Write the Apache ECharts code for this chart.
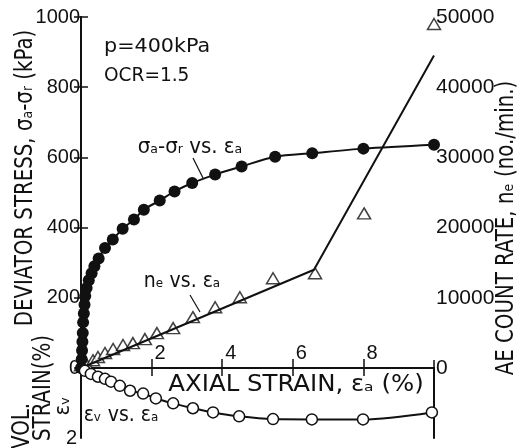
<!DOCTYPE html>
<html>
<head>
<meta charset="utf-8">
<script src="https://cdn.jsdelivr.net/npm/echarts@6/dist/echarts.min.js"></script>
<style>html,body{margin:0;padding:0;background:#fff}#c{width:524px;height:448px}</style>
</head>
<body>
<div id="c"></div>
<script>
// ---- data ----
// deviator stress (kPa) vs axial strain (%)
const stressStrain = [0,0.02,0.03,0.04,0.05,0.06,0.08,0.1,0.12,0.16,0.22,0.3,0.38,0.5,0.68,0.9,1.18,1.5,1.78,2.23,2.65,3.15,3.8,4.55,5.5,6.55,8.0,10.0];
const stressValues = [0,25,50,75,100,130,155,180,205,228,250,270,290,312,342,366,397,423,451,477,503,527,551,574,602,612,625,636];
// AE count rate (no./min.) vs axial strain (%)
const aeStrain = [0,0.14,0.34,0.48,0.68,0.91,1.19,1.47,1.81,2.15,2.61,3.17,3.8,4.5,5.44,6.63,8.02,10];
const aeValues = [400,700,1100,1560,2130,2700,3270,3550,4120,4970,5680,7240,8660,10080,12780,13490,22020,49000];
// fitted AE trend line
const aeFitStrain = [0,6.6,10];
const aeFitValues = [0,14000,44500];
// volumetric strain (%) vs axial strain (%)
const volStrainX = [0.11,0.28,0.48,0.68,0.85,1.1,1.39,1.76,2.12,2.61,3.17,3.74,4.48,5.44,6.54,7.99,9.94];
const volStrainY = [0.08,0.17,0.25,0.31,0.39,0.51,0.65,0.73,0.87,1.01,1.15,1.27,1.38,1.46,1.47,1.47,1.27];
// axes
const strainTicks = {min:0,max:10,interval:2};
const stressTicks = {min:0,max:1000,interval:200};
const aeTicks = {min:0,max:50000,interval:10000};
const volTicks = {min:0,max:2,interval:2};

const zip = (a,b)=>a.map((v,i)=>[v,b[i]]);
const FN = "'Liberation Sans Narrow','DejaVu Sans Condensed','Liberation Sans',sans-serif";
const FR = "'Liberation Sans',sans-serif";
const INK = '#111';
const plain = v=>String(v);

const chart = echarts.init(document.getElementById('c'), null, {renderer:'canvas'});
const axLine = {show:true, lineStyle:{color:INK,width:2}};
const tickIn = (len)=>({show:true, inside:true, length:len, lineStyle:{color:INK,width:1.5}});

function txt(x,y,text,size,opts){
  opts = opts||{};
  return {type:'text', x:x, y:y, rotation:opts.rot||0, scaleX:opts.sx||1, scaleY:opts.sy||1, silent:true,
    style:{text:text, fill:INK, font:(size)+'px '+FN, textAlign:opts.align||'center', textVerticalAlign:'middle'}};
}

chart.setOption({
  animation:false,
  backgroundColor:'#fff',
  grid:[
    {left:81,right:90,top:17,height:351},
    {left:81,right:90,top:368,height:70}
  ],
  xAxis:[
    {gridIndex:0,type:'value',...strainTicks,position:'bottom',axisLine:axLine,axisTick:tickIn(9),
     splitLine:{show:false},
     axisLabel:{inside:true,showMinLabel:false,showMaxLabel:false,align:'left',margin:5,padding:[0,0,0,3],
       fontSize:20,color:INK,fontFamily:FR,formatter:plain}},
    {gridIndex:0,type:'value',...strainTicks,position:'top',axisLine:axLine,axisTick:tickIn(8),
     splitLine:{show:false},axisLabel:{show:false}},
    {gridIndex:1,type:'value',...strainTicks,position:'bottom',axisLine:axLine,axisTick:tickIn(8),
     splitLine:{show:false},axisLabel:{show:false}}
  ],
  yAxis:[
    {gridIndex:0,type:'value',...stressTicks,position:'left',axisLine:axLine,axisTick:tickIn(7),
     splitLine:{show:false},axisLabel:{margin:1,fontSize:20,color:INK,fontFamily:FR,formatter:plain}},
    {gridIndex:0,type:'value',...aeTicks,position:'right',axisLine:axLine,axisTick:tickIn(7),
     splitLine:{show:false},axisLabel:{margin:2,fontSize:21,color:INK,fontFamily:FR,formatter:plain}},
    {gridIndex:1,type:'value',...volTicks,inverse:true,position:'left',axisLine:axLine,axisTick:{show:false},
     splitLine:{show:false},axisLabel:{showMinLabel:false,margin:4,fontSize:20,color:INK,fontFamily:FR,formatter:plain}},
    {gridIndex:1,type:'value',...volTicks,inverse:true,position:'right',axisLine:axLine,axisTick:{show:false},
     splitLine:{show:false},axisLabel:{show:false}}
  ],
  series:[
    {type:'line',xAxisIndex:0,yAxisIndex:1,data:zip(aeFitStrain,aeFitValues),symbol:'none',clip:false,
     lineStyle:{color:INK,width:2}},
    {type:'scatter',xAxisIndex:0,yAxisIndex:1,data:zip(aeStrain,aeValues),symbol:'triangle',symbolSize:[13,11],clip:false,
     itemStyle:{color:'#fff',borderColor:INK,borderWidth:1.5}},
    {type:'line',xAxisIndex:0,yAxisIndex:0,data:zip(stressStrain,stressValues),smooth:0.3,clip:false,
     symbol:'circle',symbolSize:12,itemStyle:{color:INK},lineStyle:{color:INK,width:2}},
    {type:'line',xAxisIndex:2,yAxisIndex:2,data:zip(volStrainX,volStrainY),smooth:0.3,clip:false,
     symbol:'circle',symbolSize:11,itemStyle:{color:'#fff',borderColor:INK,borderWidth:1.5},lineStyle:{color:INK,width:2}}
  ],
  graphic:[
    txt(26,178,'DEVIATOR STRESS, σₐ-σᵣ (kPa)',22,{rot:Math.PI/2,sy:1.12}),
    txt(507,228,'AE COUNT RATE, nₑ (no./min.)',22,{rot:Math.PI/2,sy:1.12}),
    txt(23,426,'VOL.',22,{rot:Math.PI/2,sy:1.1}),
    txt(44,388,'STRAIN(%)',22,{rot:Math.PI/2,sy:1.1}),
    txt(63,406,'εᵥ',22,{rot:Math.PI/2}),
    txt(296,385,'AXIAL STRAIN, εₐ (%)',23,{sx:1.18}),
    txt(104,47,'p=400kPa',20,{align:'left',sx:1.15}),
    txt(104,76,'OCR=1.5',20,{align:'left',sx:1.03}),
    txt(190,148,'σₐ-σᵣ vs. εₐ',21,{sx:1.05}),
    {type:'line',silent:true,shape:{x1:193,y1:158,x2:203,y2:178},style:{stroke:INK,lineWidth:1.2}},
    txt(182,282,'nₑ vs. εₐ',21),
    {type:'line',silent:true,shape:{x1:190,y1:295,x2:200,y2:312},style:{stroke:INK,lineWidth:1.2}},
    txt(121,416,'εᵥ vs. εₐ',21)
  ]
});
</script>
</body>
</html>
